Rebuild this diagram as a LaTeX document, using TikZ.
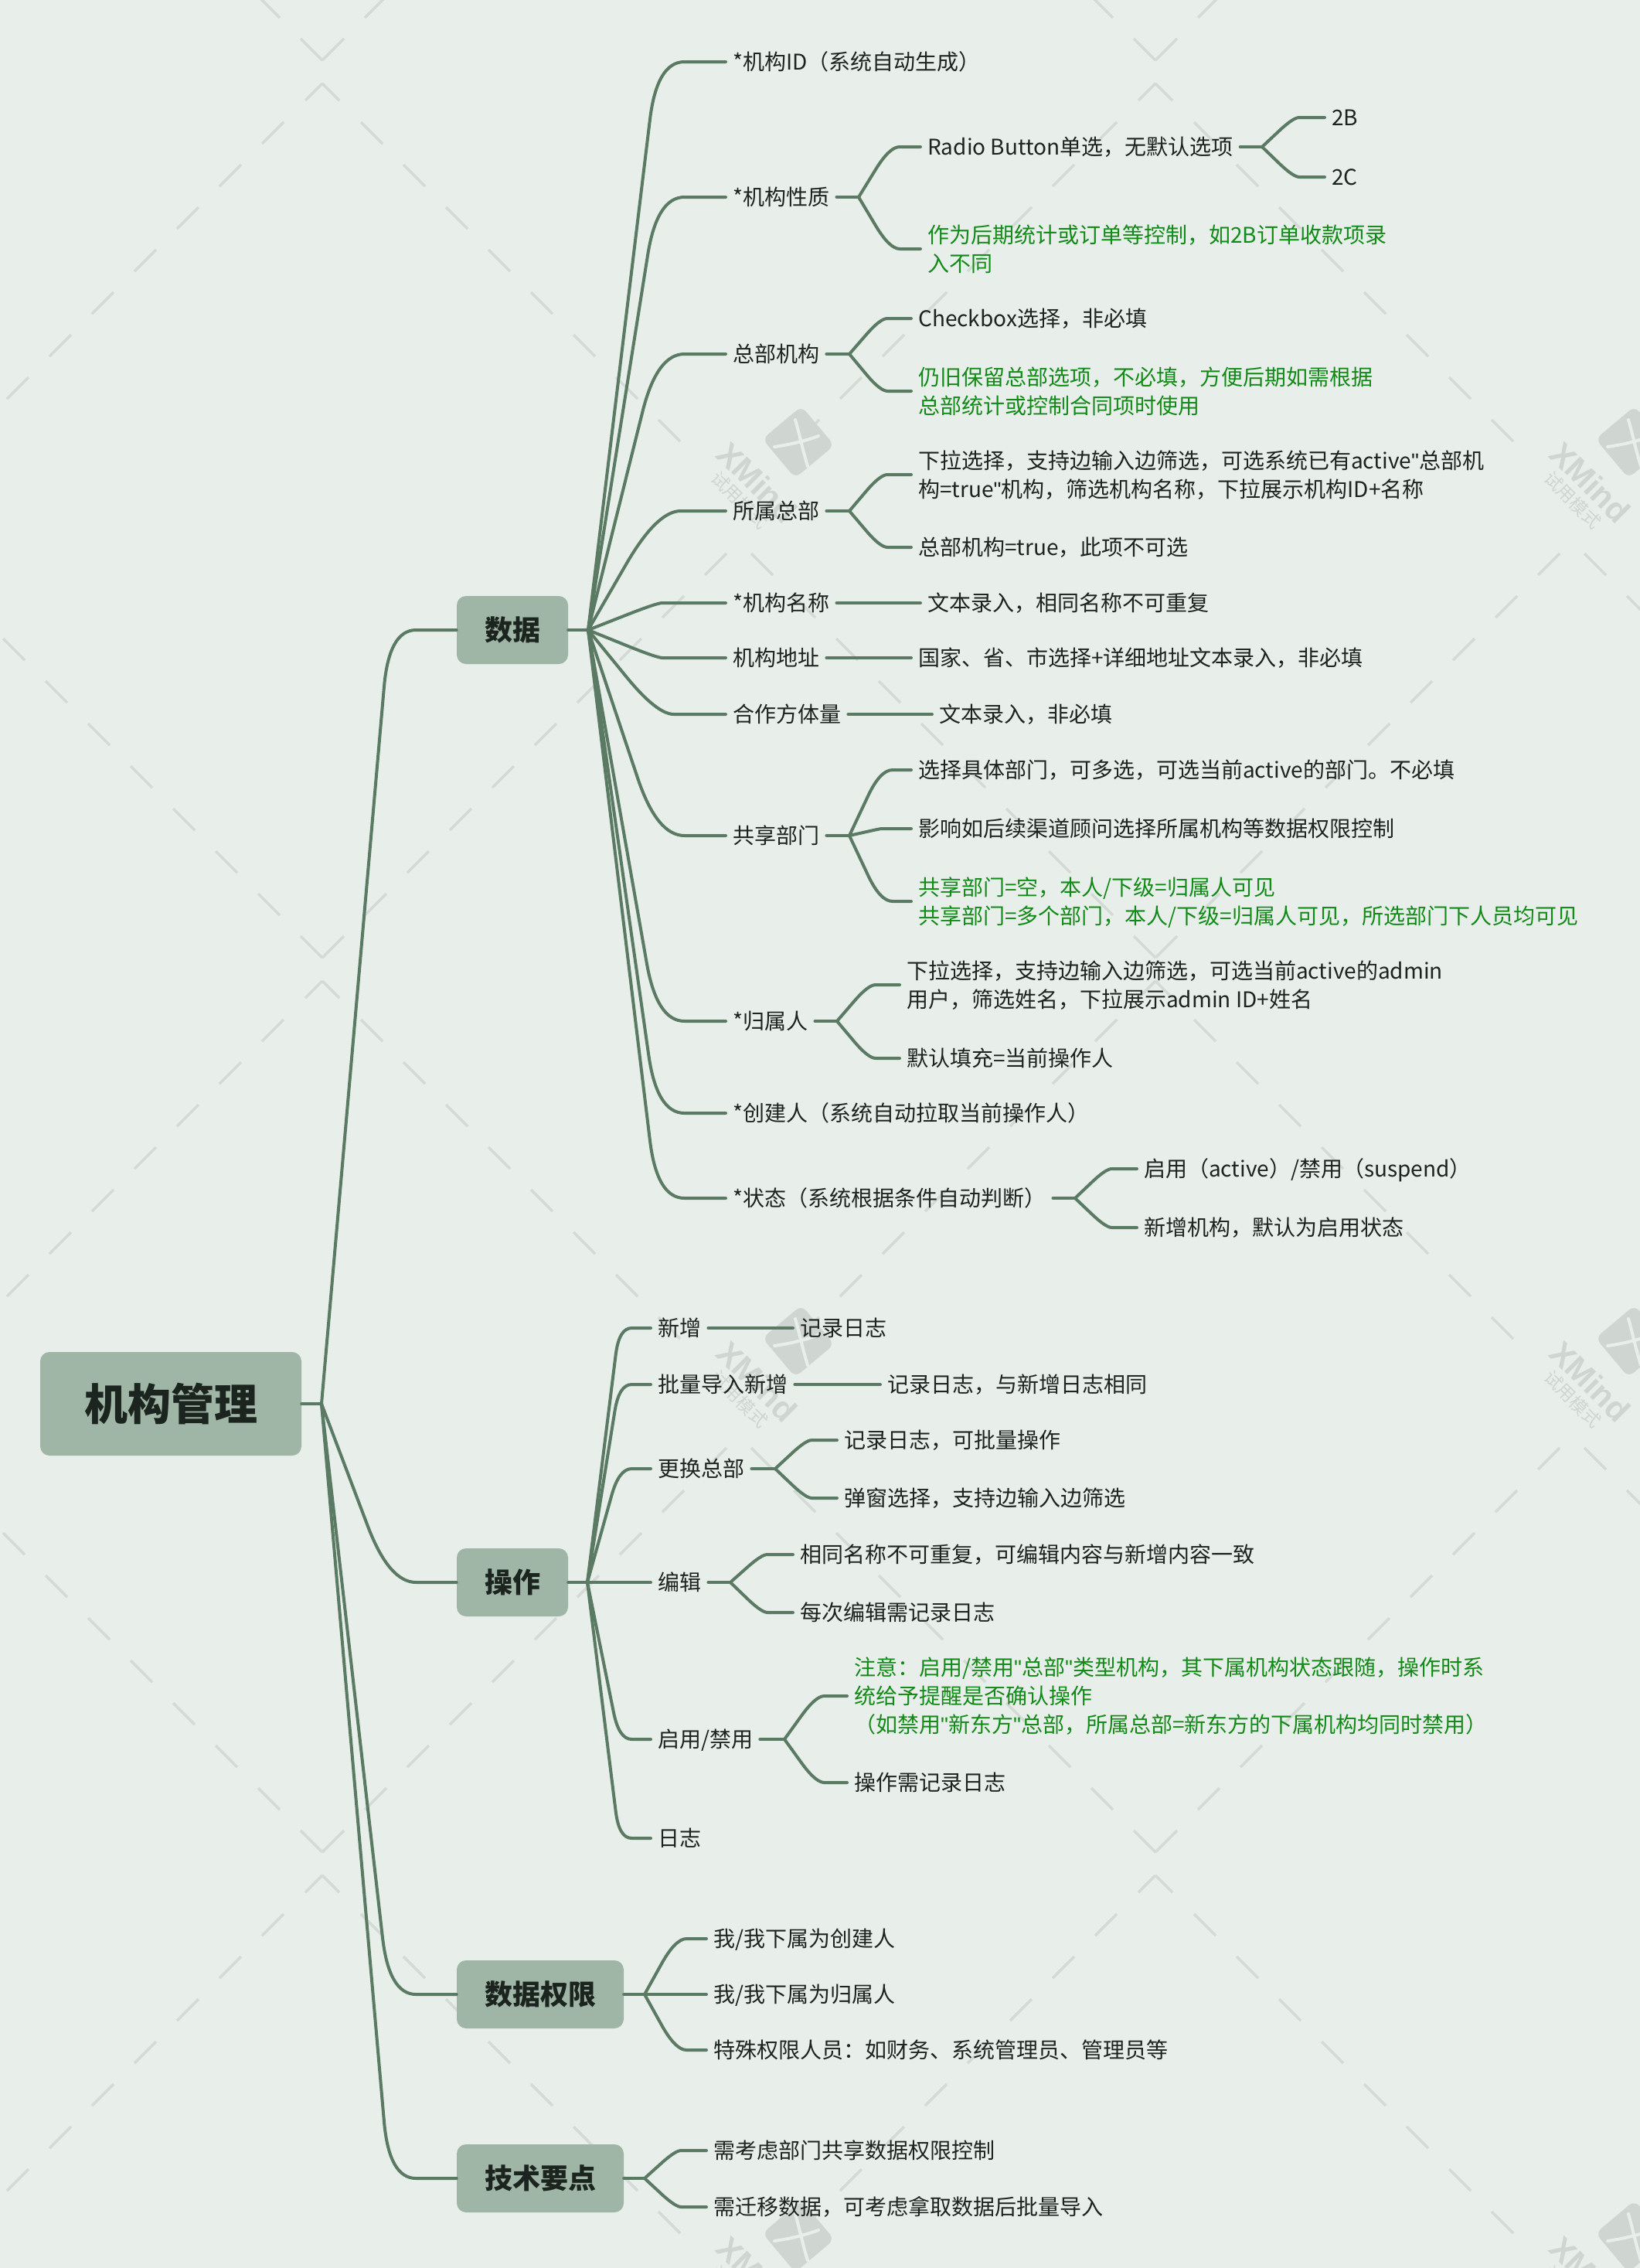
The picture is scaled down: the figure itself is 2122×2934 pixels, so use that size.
\documentclass[tikz,border=0pt]{standalone}
\usepackage{fontspec}
\setmainfont{Noto Sans CJK SC}
\newfontfamily\wmfont{Liberation Sans}
\newcommand\q{{\wmfont"}}
\usetikzlibrary{calc}
\definecolor{bgc}{HTML}{E8EEEA}
\definecolor{nodec}{HTML}{9FB6A6}
\definecolor{linec}{HTML}{5A7A64}
\definecolor{inkc}{HTML}{1B241E}
\definecolor{greenc}{HTML}{128A17}
\definecolor{wmdash}{HTML}{D4DBD7}
\definecolor{wmlogo}{HTML}{CFD6D2}
\tikzset{
  x=1pt,y=-1pt,
  conn/.style={draw=linec,line width=4pt,line cap=round,line join=round},
  txt/.style={anchor=west,inner xsep=9pt,inner ysep=0pt,align=left,text=inkc,font=\fontsize{28pt}{37pt}\selectfont,
    execute at begin node={\rule{0pt}{27pt}},execute at end node={\rule[-6pt]{0pt}{6pt}}},
  twolines/.style={execute at begin node={\rule{0pt}{64pt}}},
  threelines/.style={execute at begin node={\rule{0pt}{101pt}}},
  note/.style={txt,text=greenc},
  major/.style={fill=nodec,rounded corners=12pt,inner sep=0pt,minimum height=88pt,text=inkc,font=\fontsize{36pt}{42pt}\selectfont\bfseries},
  rootbox/.style={fill=nodec,rounded corners=12pt,inner sep=0pt,minimum width=338pt,minimum height=134pt,text=inkc,font=\fontsize{56pt}{64pt}\selectfont\bfseries},
  wmd/.style={draw=wmdash,line width=3.5pt},
}
\newcommand\stub[2]{\draw[conn] (#1) -- (#2);}
\newcommand\branch[2]{%
  \draw[conn] let \p1=(#1),\p2=(#2.west),
    \n1={\x2-\x1},\n2={abs(\y2-\y1)},
    \n3={\x1+0.5*\n1},
    \n4={min(0.42*\n1,0.45*\n2)/max(\n2,0.01)},
    \n5={min(0.2*\n1,0.2*\n2)}
  in (\p1) -- ({\n3+\n4*(\x1-\n3)},{\y2+\n4*(\y1-\y2)})
     .. controls ({\n3+\n4/3*(\x1-\n3)},{\y2+\n4/3*(\y1-\y2)}) and ({\n3+\n5/3},{\y2}) ..
     ({\n3+\n5},{\y2}) -- (\p2);}
\begin{document}
\begin{tikzpicture}
\useasboundingbox (0,0) rectangle (2122,2934);
\fill[bgc] (0,0) rectangle (2122,2934);
% watermark
\begin{scope}
\clip (0,0) rectangle (2122,2934);
\foreach \cx in {417,1495,2573}{
 \foreach \cy in {93,1254,2411}{
  \foreach \k in {0,...,9}{
   \draw[wmd] ({\cx-55*\k},{\cy-15-55*\k}) -- ({\cx-55*\k-28},{\cy-15-55*\k-28});
   \draw[wmd] ({\cx+55*\k},{\cy-15-55*\k}) -- ({\cx+55*\k+28},{\cy-15-55*\k-28});
  }
  \draw[wmd] (\cx,{\cy+15}) -- ({\cx-22},{\cy+37});
  \draw[wmd] (\cx,{\cy+15}) -- ({\cx+22},{\cy+37});
  \foreach \k in {0,...,7}{
   \draw[wmd] ({\cx-50-55*\k},{\cy+15+50+55*\k}) -- ({\cx-78-55*\k},{\cy+15+78+55*\k});
   \draw[wmd] ({\cx+50+55*\k},{\cy+15+50+55*\k}) -- ({\cx+78+55*\k},{\cy+15+78+55*\k});
  }
 }
}
\foreach \lx/\ln in {1033/a,2111/b}{
 \foreach \ly/\lm in {572/a,1735/b,2893/c}{
  \begin{scope}[shift={(\lx,\ly)}]
   \fill[wmlogo,rotate=40,rounded corners=9pt] (-33,-33) rectangle (33,33);
   \draw[bgc,line width=4pt,line cap=round] (-4,-29) .. controls (2,-8) and (6,12) .. (12,31);
   \draw[bgc,line width=4pt,line cap=round] (-31,6) .. controls (-10,3) and (10,-2) .. (26,-8);
   \node[rotate=-45,text=wmlogo,inner sep=0pt,font=\wmfont\fontsize{42pt}{44pt}\selectfont\bfseries] (wmx\ln\lm) at (-53,52) {XMind};
   \node[rotate=-45,text=wmlogo,inner sep=0pt,font=\fontsize{23pt}{25pt}\selectfont] (wmy\ln\lm) at (-76,75) {试用模式};
  \end{scope}
 }
}
\end{scope}
% hubs
\coordinate (jroot) at (416,1816);
\coordinate (jdata) at (761,815);
\coordinate (jop) at (760,2047);
\coordinate (jperm) at (834,2580);
\coordinate (jtech) at (834,2818);
% main nodes
\node[rootbox] (root) at (221,1816) {机构管理};
\node[major,minimum width=144pt] (data) at (663,815) {数据};
\node[major,minimum width=144pt] (op) at (663,2047) {操作};
\node[major,minimum width=216pt] (perm) at (699,2580) {数据权限};
\node[major,minimum width=216pt] (tech) at (699,2818) {技术要点};
% data children
\node[txt] (d1) at (939,80) {*机构ID（系统自动生成）};
\node[txt] (d2) at (939,255) {*机构性质};
\node[txt] (d2a) at (1191,190) {Radio Button单选，无默认选项};
\node[txt] (d2a1) at (1714,152) {2B};
\node[txt] (d2a2) at (1714,229) {2C};
\node[note,twolines] (d2b) at (1191,322) {作为后期统计或订单等控制，如2B订单收款项录\\入不同};
\node[txt] (d3) at (939,458) {总部机构};
\node[txt] (d3a) at (1179,412) {Checkbox选择，非必填};
\node[note,twolines] (d3b) at (1179,506) {仍旧保留总部选项，不必填，方便后期如需根据\\总部统计或控制合同项时使用};
\node[txt] (d4) at (939,661) {所属总部};
\node[txt,twolines] (d4a) at (1179,614) {下拉选择，支持边输入边筛选，可选系统已有active\q 总部机\\构=true\q 机构，筛选机构名称，下拉展示机构ID+名称};
\node[txt] (d4b) at (1179,708) {总部机构=true，此项不可选};
\node[txt] (d5) at (939,780) {*机构名称};
\node[txt] (d5a) at (1191,780) {文本录入，相同名称不可重复};
\node[txt] (d6) at (939,851) {机构地址};
\node[txt] (d6a) at (1179,851) {国家、省、市选择+详细地址文本录入，非必填};
\node[txt] (d7) at (939,924) {合作方体量};
\node[txt] (d7a) at (1206,924) {文本录入，非必填};
\node[txt] (d8) at (939,1081) {共享部门};
\node[txt] (d8a) at (1179,996) {选择具体部门，可多选，可选当前active的部门。不必填};
\node[txt] (d8b) at (1179,1072) {影响如后续渠道顾问选择所属机构等数据权限控制};
\node[note,twolines] (d8c) at (1179,1166) {共享部门=空，本人/下级=归属人可见\\共享部门=多个部门，本人/下级=归属人可见，所选部门下人员均可见};
\node[txt] (d9) at (939,1321) {*归属人};
\node[txt,twolines] (d9a) at (1164,1274) {下拉选择，支持边输入边筛选，可选当前active的admin\\用户，筛选姓名，下拉展示admin ID+姓名};
\node[txt] (d9b) at (1164,1369) {默认填充=当前操作人};
\node[txt] (d10) at (939,1440) {*创建人（系统自动拉取当前操作人）};
\node[txt] (d11) at (939,1550) {*状态（系统根据条件自动判断）};
\node[txt] (d11a) at (1471,1512) {启用（active）/禁用（suspend）};
\node[txt] (d11b) at (1471,1588) {新增机构，默认为启用状态};
% op children
\node[txt] (o1) at (842,1718) {新增};
\node[txt] (o1a) at (1026,1718) {记录日志};
\node[txt] (o2) at (842,1791) {批量导入新增};
\node[txt] (o2a) at (1139,1791) {记录日志，与新增日志相同};
\node[txt] (o3) at (842,1900) {更换总部};
\node[txt] (o3a) at (1083,1863) {记录日志，可批量操作};
\node[txt] (o3b) at (1083,1938) {弹窗选择，支持边输入边筛选};
\node[txt] (o4) at (842,2047) {编辑};
\node[txt] (o4a) at (1026,2011) {相同名称不可重复，可编辑内容与新增内容一致};
\node[txt] (o4b) at (1026,2086) {每次编辑需记录日志};
\node[txt] (o5) at (842,2250) {启用/禁用};
\node[note,threelines] (o5a) at (1096,2194) {注意：启用/禁用\q 总部\q 类型机构，其下属机构状态跟随，操作时系\\统给予提醒是否确认操作\\（如禁用\q 新东方\q 总部，所属总部=新东方的下属机构均同时禁用）};
\node[txt] (o5b) at (1096,2306) {操作需记录日志};
\node[txt] (o6) at (842,2378) {日志};
% perm, tech children
\node[txt] (p1) at (914,2508) {我/我下属为创建人};
\node[txt] (p2) at (914,2580) {我/我下属为归属人};
\node[txt] (p3) at (914,2652) {特殊权限人员：如财务、系统管理员、管理员等};
\node[txt] (t1) at (914,2782) {需考虑部门共享数据权限控制};
\node[txt] (t2) at (914,2855) {需迁移数据，可考虑拿取数据后批量导入};
% connectors
\stub{root.east}{jroot}
\foreach \tgt in {data,op,perm,tech}{\branch{jroot}{\tgt}}
\stub{data.east}{jdata}
\foreach \tgt in {d1,d2,d3,d4,d5,d6,d7,d8,d9,d10,d11}{\branch{jdata}{\tgt}}
\stub{op.east}{jop}
\foreach \tgt in {o1,o2,o3,o4,o5,o6}{\branch{jop}{\tgt}}
\stub{perm.east}{jperm}
\foreach \tgt in {p1,p2,p3}{\branch{jperm}{\tgt}}
\stub{tech.east}{jtech}
\foreach \tgt in {t1,t2}{\branch{jtech}{\tgt}}
% second level hubs
\coordinate (j2) at (1111,255);
\coordinate (j2a) at (1633,190);
\coordinate (j3) at (1099,458);
\coordinate (j4) at (1099,661);
\coordinate (j8) at (1099,1081);
\coordinate (j9) at (1083,1321);
\coordinate (j11) at (1391,1550);
\coordinate (j03) at (1003,1900);
\coordinate (j04) at (945,2047);
\coordinate (j05) at (1015,2250);
\stub{d2.east}{j2} \branch{j2}{d2a} \branch{j2}{d2b}
\stub{d2a.east}{j2a} \branch{j2a}{d2a1} \branch{j2a}{d2a2}
\stub{d3.east}{j3} \branch{j3}{d3a} \branch{j3}{d3b}
\stub{d4.east}{j4} \branch{j4}{d4a} \branch{j4}{d4b}
\stub{d5.east}{d5a.west}
\stub{d6.east}{d6a.west}
\stub{d7.east}{d7a.west}
\stub{d8.east}{j8} \branch{j8}{d8a} \branch{j8}{d8b} \branch{j8}{d8c}
\stub{d9.east}{j9} \branch{j9}{d9a} \branch{j9}{d9b}
\stub{d11.east}{j11} \branch{j11}{d11a} \branch{j11}{d11b}
\stub{o1.east}{o1a.west}
\stub{o2.east}{o2a.west}
\stub{o3.east}{j03} \branch{j03}{o3a} \branch{j03}{o3b}
\stub{o4.east}{j04} \branch{j04}{o4a} \branch{j04}{o4b}
\stub{o5.east}{j05} \branch{j05}{o5a} \branch{j05}{o5b}
\end{tikzpicture}
\end{document}
